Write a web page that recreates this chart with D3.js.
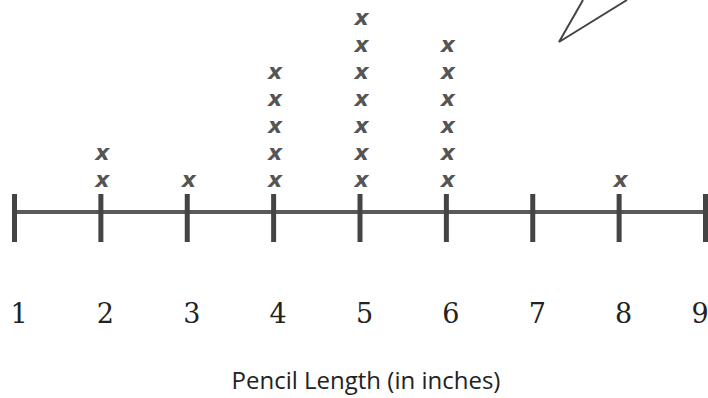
<!DOCTYPE html>
<html>
<head>
<meta charset="utf-8">
<script src="https://cdn.jsdelivr.net/npm/d3@7"></script>
<style>
  body { margin: 0; background: #fff; }
  svg { display: block; }
</style>
</head>
<body>
<div id="chart"></div>
<script>
// pencil lengths, inches
var lengths = [1, 2, 3, 4, 5, 6, 7, 8, 9];
var counts  = [0, 2, 1, 5, 7, 6, 0, 1, 0];
var tickLabels = ["1", "2", "3", "4", "5", "6", "7", "8", "9"];
var axisTitle = "Pencil Length (in inches)";

var W = 708, H = 398;
var AXIS_Y = 212;
var ROW = 27;

var svg = d3.select("#chart").append("svg")
  .attr("width", W)
  .attr("height", H);

var x = d3.scaleLinear().domain([1, 9]).range([14, 705]);
var row = d3.scaleLinear().domain([0, 1]).range([AXIS_Y - 32, AXIS_Y - 32 - ROW]);

// number line
var axis = svg.append("g")
  .attr("transform", "translate(0," + AXIS_Y + ")")
  .call(d3.axisBottom(x).tickValues(lengths).tickSize(30).tickFormat(""));

axis.select(".domain").remove();
axis.insert("line", ":first-child")
  .attr("x1", x(1)).attr("x2", W + 5)
  .attr("stroke", "#5a5a5a").attr("stroke-width", 4);
axis.selectAll(".tick line")
  .attr("y1", -18).attr("y2", 30)
  .attr("stroke", "#444").attr("stroke-width", 5);

// tick numbers (last one pulled inside the right edge)
svg.append("g").selectAll("text")
  .data(lengths)
  .enter().append("text")
  .attr("x", function(d){ return Math.min(x(d) + 5, W - 8); })
  .attr("y", 323)
  .attr("text-anchor", "middle")
  .attr("font-family", "DejaVu Serif, Liberation Serif, serif")
  .attr("font-size", 27)
  .attr("fill", "#222")
  .text(function(d, i){ return tickLabels[i]; });

// x marks
var marks = [];
lengths.forEach(function(v, i){
  for (var k = 0; k < counts[i]; k++) marks.push({v: v, k: k});
});
svg.append("g").selectAll("text")
  .data(marks)
  .enter().append("text")
  .attr("x", function(d){ return x(d.v) + 2; })
  .attr("y", function(d){ return row(d.k) + 7; })
  .attr("text-anchor", "middle")
  .attr("font-family", "DejaVu Sans, sans-serif")
  .attr("font-style", "italic")
  .attr("font-weight", "bold")
  .attr("font-size", 22)
  .attr("fill", "#555")
  .text("x");

// title
svg.append("text")
  .attr("x", 366)
  .attr("y", 389)
  .attr("text-anchor", "middle")
  .attr("font-family", "Open Sans, sans-serif")
  .attr("font-size", 24)
  .attr("fill", "#222")
  .text(axisTitle);

// corner of the pencil drawing, top right
svg.append("path")
  .attr("d", "M583,0 L559,42 L627,0")
  .attr("fill", "none")
  .attr("stroke", "#444")
  .attr("stroke-width", 2);
</script>
</body>
</html>
